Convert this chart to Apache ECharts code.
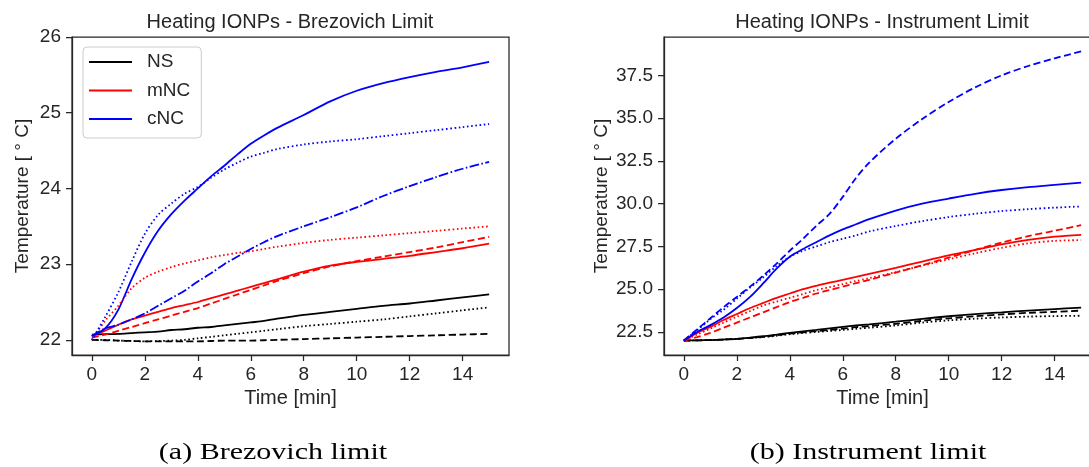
<!DOCTYPE html>
<html lang="en">
<head>
    <meta charset="UTF-8">
    <title>Heating IONPs</title>
    <script src="https://cdn.jsdelivr.net/npm/echarts@6/dist/echarts.min.js"></script>
    <style>
        html, body { margin: 0; padding: 0; background: #fff; overflow: hidden; }
    </style>
</head>
<body>
    <div id="chart" style="width: 1120px; height: 467px;"></div>
    <script>
        // time points [min]
        var times = [0, 0.5, 1, 1.5, 2, 2.5, 3, 3.5, 4, 4.5, 5, 5.5, 6, 6.5, 7, 8, 9, 10, 11, 12, 13, 14, 15];

        // (a) Brezovich limit
        var brezNS_solid  = [22.07, 22.075, 22.08, 22.09, 22.1, 22.11, 22.13, 22.14, 22.16, 22.17, 22.19, 22.21, 22.23, 22.25, 22.28, 22.33, 22.37, 22.41, 22.45, 22.48, 22.52, 22.56, 22.6];
        var brezNS_dot    = [22.0, 22.0, 21.99, 21.985, 21.98, 21.985, 21.99, 22.0, 22.02, 22.04, 22.06, 22.08, 22.1, 22.12, 22.14, 22.18, 22.21, 22.24, 22.27, 22.31, 22.35, 22.39, 22.43];
        var brezNS_dash   = [22.0, 21.995, 21.99, 21.985, 21.98, 21.98, 21.98, 21.98, 21.98, 21.985, 21.99, 21.99, 21.99, 21.995, 22.0, 22.01, 22.02, 22.03, 22.04, 22.05, 22.06, 22.07, 22.08];
        var brezMNC_solid = [22.05, 22.12, 22.2, 22.27, 22.32, 22.37, 22.42, 22.46, 22.5, 22.55, 22.6, 22.65, 22.7, 22.75, 22.8, 22.9, 22.98, 23.03, 23.07, 23.11, 23.16, 23.21, 23.27];
        var brezMNC_dash  = [22.03, 22.07, 22.12, 22.17, 22.22, 22.27, 22.32, 22.37, 22.42, 22.48, 22.54, 22.6, 22.66, 22.72, 22.78, 22.88, 22.97, 23.04, 23.1, 23.16, 23.22, 23.29, 23.36];
        var brezMNC_dot   = [22.0, 22.25, 22.45, 22.68, 22.82, 22.9, 22.96, 23.01, 23.05, 23.09, 23.12, 23.15, 23.17, 23.2, 23.23, 23.28, 23.32, 23.35, 23.38, 23.41, 23.44, 23.47, 23.5];
        var brezCNC_solid = [22.05, 22.15, 22.4, 22.8, 23.15, 23.44, 23.66, 23.84, 24.0, 24.16, 24.3, 24.45, 24.59, 24.7, 24.8, 24.97, 25.15, 25.29, 25.39, 25.47, 25.54, 25.6, 25.67];
        var brezCNC_dot   = [22.0, 22.3, 22.63, 23.03, 23.4, 23.65, 23.8, 23.93, 24.02, 24.14, 24.25, 24.34, 24.42, 24.47, 24.52, 24.58, 24.62, 24.65, 24.69, 24.73, 24.77, 24.81, 24.85];
        var brezCNC_dd    = [22.05, 22.15, 22.2, 22.27, 22.35, 22.45, 22.55, 22.65, 22.77, 22.88, 23.0, 23.1, 23.2, 23.29, 23.37, 23.5, 23.62, 23.75, 23.9, 24.03, 24.15, 24.26, 24.35];

        // (b) Instrument limit
        var instNS_solid  = [22.0, 22.01, 22.03, 22.06, 22.1, 22.17, 22.25, 22.35, 22.45, 22.54, 22.62, 22.71, 22.8, 22.88, 22.95, 23.1, 23.27, 23.42, 23.55, 23.65, 23.75, 23.84, 23.93];
        var instNS_dash   = [22.0, 22.01, 22.03, 22.06, 22.1, 22.15, 22.22, 22.31, 22.4, 22.48, 22.55, 22.62, 22.7, 22.78, 22.85, 22.98, 23.15, 23.3, 23.42, 23.53, 23.62, 23.68, 23.75];
        var instNS_dot    = [22.0, 22.01, 22.03, 22.06, 22.1, 22.15, 22.2, 22.28, 22.37, 22.44, 22.5, 22.56, 22.62, 22.69, 22.75, 22.88, 23.05, 23.18, 23.28, 23.35, 23.4, 23.43, 23.45];
        var instMNC_solid = [22.0, 22.45, 22.8, 23.2, 23.55, 23.9, 24.2, 24.5, 24.75, 25.0, 25.2, 25.38, 25.55, 25.72, 25.9, 26.25, 26.62, 26.98, 27.3, 27.62, 27.88, 28.07, 28.18];
        var instMNC_dash  = [22.0, 22.2, 22.45, 22.75, 23.05, 23.35, 23.65, 23.95, 24.25, 24.5, 24.75, 24.95, 25.15, 25.35, 25.55, 25.97, 26.4, 26.85, 27.3, 27.73, 28.1, 28.42, 28.75];
        var instMNC_dot   = [22.0, 22.35, 22.7, 23.05, 23.4, 23.72, 24.05, 24.28, 24.5, 24.72, 24.95, 25.12, 25.3, 25.48, 25.65, 26.0, 26.38, 26.75, 27.1, 27.42, 27.68, 27.83, 27.87];
        var instCNC_solid = [22.0, 22.5, 22.9, 23.35, 23.9, 24.55, 25.35, 26.2, 26.9, 27.35, 27.75, 28.15, 28.5, 28.8, 29.1, 29.6, 30.0, 30.3, 30.58, 30.8, 30.97, 31.1, 31.23];
        var instCNC_dash  = [22.0, 22.65, 23.3, 23.95, 24.55, 25.15, 25.8, 26.5, 27.25, 27.95, 28.7, 29.4, 30.4, 31.5, 32.4, 33.8, 34.95, 35.95, 36.8, 37.5, 38.05, 38.5, 38.9];
        var instCNC_dot   = [22.0, 22.6, 23.25, 23.8, 24.45, 25.1, 25.7, 26.35, 26.9, 27.25, 27.5, 27.75, 27.95, 28.15, 28.38, 28.7, 28.98, 29.22, 29.41, 29.57, 29.68, 29.77, 29.84];

        var xTicks = [0, 2, 4, 6, 8, 10, 12, 14];
        var yTicksBrez = [22, 23, 24, 25, 26];
        var yTicksInst = [22.5, 25, 27.5, 30, 32.5, 35, 37.5];

        var dark = '#262626';
        var font = '"Liberation Sans", Arial, sans-serif';
        var dashes = {
            solid: 'solid',
            dot: [1.6, 2.6],
            dash: [7, 3.5],
            dashdot: [9.6, 2.4, 1.6, 2.4]
        };

        function line(name, vals, color, style, idx) {
            return {
                type: 'line',
                name: name,
                xAxisIndex: idx,
                yAxisIndex: idx,
                data: times.map(function (t, i) { return [t, vals[i]]; }),
                symbol: 'none',
                smooth: 0.3,
                lineStyle: { color: color, width: 1.8, type: dashes[style], cap: 'butt' },
                itemStyle: { color: color },
                emphasis: { disabled: true }
            };
        }

        function xAxis(idx) {
            return {
                type: 'value', gridIndex: idx, min: -0.75, max: 15.75,
                name: 'Time [min]', nameLocation: 'middle', nameGap: 32,
                nameTextStyle: { fontSize: 20, color: dark, fontFamily: font },
                splitLine: { show: false },
                axisLine: { show: true, onZero: false, lineStyle: { color: dark, width: 1.25 } },
                axisTick: { show: true, length: 6, customValues: xTicks, lineStyle: { color: dark, width: 1.25 } },
                axisLabel: { customValues: xTicks, margin: 10, fontSize: 19, color: dark, fontFamily: font }
            };
        }

        function yAxis(idx, min, max, ticks, gap, dec) {
            return {
                type: 'value', gridIndex: idx, min: min, max: max,
                name: 'Temperature [ \u00b0 C]', nameLocation: 'middle', nameGap: gap,
                nameTextStyle: { fontSize: 19, color: dark, fontFamily: font },
                splitLine: { show: false },
                axisLine: { show: true, onZero: false, lineStyle: { color: dark, width: 1.25 } },
                axisTick: { show: true, length: 6, customValues: ticks, lineStyle: { color: dark, width: 1.25 } },
                axisLabel: {
                    customValues: ticks, margin: 11, fontSize: 19, color: dark, fontFamily: font,
                    formatter: function (v) { return v.toFixed(dec); }
                }
            };
        }

        var chart = echarts.init(document.getElementById('chart'));
        chart.setOption({
            animation: false,
            backgroundColor: '#fff',
            title: [
                { text: 'Heating IONPs - Brezovich Limit', left: 290, top: 12, textAlign: 'center', padding: 0,
                  textStyle: { fontSize: 20, fontWeight: 'normal', color: dark, fontFamily: font } },
                { text: 'Heating IONPs - Instrument Limit', left: 882, top: 12, textAlign: 'center', padding: 0,
                  textStyle: { fontSize: 20, fontWeight: 'normal', color: dark, fontFamily: font } }
            ],
            grid: [
                { left: 72, top: 37, width: 437, height: 318, show: true, borderColor: dark, borderWidth: 1.25, outerBoundsMode: 'none' },
                { left: 664, top: 37, width: 437, height: 318, show: true, borderColor: dark, borderWidth: 1.25, outerBoundsMode: 'none' }
            ],
            legend: {
                data: ['NS', 'mNC', 'cNC'],
                icon: 'rect',
                orient: 'vertical',
                left: 83, top: 47,
                padding: [5, 11, 9, 6],
                itemWidth: 43, itemHeight: 2, itemGap: 8.5,
                backgroundColor: 'rgba(255,255,255,0.8)',
                borderColor: '#cccccc', borderWidth: 1, borderRadius: 4,
                textStyle: { fontSize: 19, color: dark, fontFamily: font, lineHeight: 20, padding: [0, 0, 0, 10] }
            },
            xAxis: [xAxis(0), xAxis(1)],
            yAxis: [
                yAxis(0, 21.8, 26, yTicksBrez, 40, 0),
                yAxis(1, 21.155, 39.745, yTicksInst, 53, 1)
            ],
            series: [
                line('NS', brezNS_solid, '#000000', 'solid', 0),
                line('mNC', brezMNC_solid, '#ff0000', 'solid', 0),
                line('cNC', brezCNC_solid, '#0000ff', 'solid', 0),
                line('NS', brezNS_dot, '#000000', 'dot', 0),
                line('NS', brezNS_dash, '#000000', 'dash', 0),
                line('mNC', brezMNC_dash, '#ff0000', 'dash', 0),
                line('mNC', brezMNC_dot, '#ff0000', 'dot', 0),
                line('cNC', brezCNC_dot, '#0000ff', 'dot', 0),
                line('cNC', brezCNC_dd, '#0000ff', 'dashdot', 0),

                line('NS', instNS_solid, '#000000', 'solid', 1),
                line('NS', instNS_dash, '#000000', 'dash', 1),
                line('NS', instNS_dot, '#000000', 'dot', 1),
                line('mNC', instMNC_solid, '#ff0000', 'solid', 1),
                line('mNC', instMNC_dash, '#ff0000', 'dash', 1),
                line('mNC', instMNC_dot, '#ff0000', 'dot', 1),
                line('cNC', instCNC_solid, '#0000ff', 'solid', 1),
                line('cNC', instCNC_dash, '#0000ff', 'dash', 1),
                line('cNC', instCNC_dot, '#0000ff', 'dot', 1)
            ],
            graphic: [
                { type: 'text', x: 273, y: 453, scaleX: 1.25, silent: true,
                  style: { text: '(a) Brezovich limit', font: '24px "Liberation Serif", serif', fill: '#000',
                           textAlign: 'center', textVerticalAlign: 'middle' } },
                { type: 'text', x: 868, y: 453, scaleX: 1.25, silent: true,
                  style: { text: '(b) Instrument limit', font: '24px "Liberation Serif", serif', fill: '#000',
                           textAlign: 'center', textVerticalAlign: 'middle' } }
            ]
        });
    </script>
</body>
</html>
